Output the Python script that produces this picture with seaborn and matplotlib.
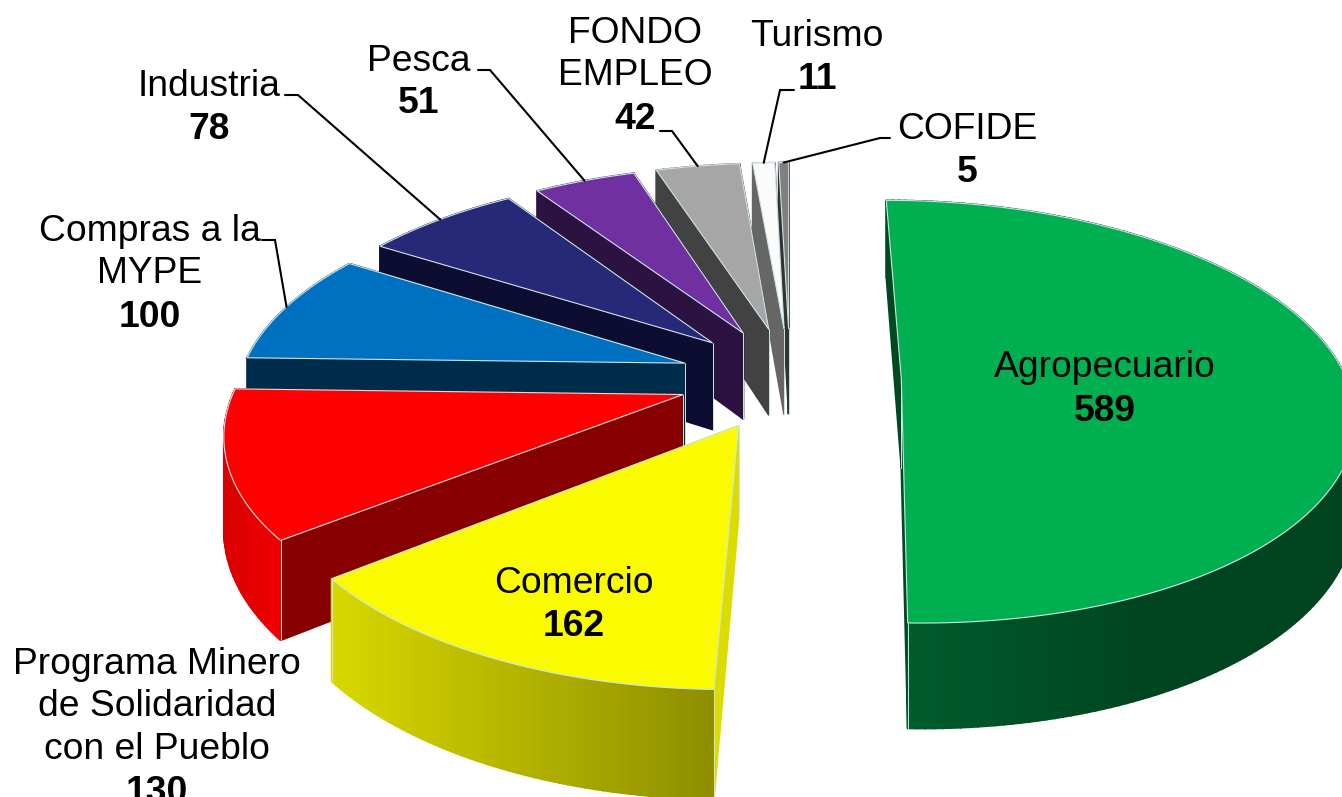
import numpy as np
import matplotlib
matplotlib.use("Agg")
import matplotlib.pyplot as plt
import matplotlib.colors as mc
import seaborn as sns

# ---- data ----
sectors = ["Agropecuario", "Comercio", "Programa Minero\nde Solidaridad\ncon el Pueblo",
           "Compras a la\nMYPE", "Industria", "Pesca", "FONDO\nEMPLEO", "Turismo", "COFIDE"]
values = [589, 162, 130, 100, 78, 51, 42, 11, 5]

# ---- styles ----
top_colors = ["#00B050", "#FAFA00", "#FF0000", "#0070C0", "#262878",
              "#7030A0", "#A6A6A6", "#FBFBFB", "#808080"]
wall_colors = ["#004A20", "#DCDC00", "#870000", "#002C4C", "#0C0D30",
               "#2C1240", "#424242", "#666666", "#333333"]
rim_left = ["#005C2B", "#D8D800", "#D80000", "#004F88", "#1A1B55",
            "#4E2270", "#747474", "#B0B0B0", "#5A5A5A"]
rim_right = ["#004420", "#8E8E00", "#F00000", "#004F88", "#1A1B55",
             "#4E2270", "#747474", "#B0B0B0", "#5A5A5A"]
EDGE = "#CDE6EA"

# label anchors: centre x and text baselines for name lines and the bold value
label_x = [1105, 574, 157, 150, 209, 419, 635, 817, 967]
name_base = [[377], [593], [674, 716, 759], [241, 283], [96], [71], [43, 85], [46], [139]]
value_base = [421, 636, 802, 327, 139, 113, 129, 89, 182]
# leader elbows (start of line at the label, elbow) for the outer labels
leaders = {3: ((262, 240), (275, 240)), 4: ((285, 95), (298, 95)),
           5: ((478, 70), (490, 70)), 6: ((660, 131), (672, 131)),
           7: ((794, 90), (780, 90)), 8: ((890, 138), (880, 138))}

# projection settings of the tilted pie
X0, Y0 = 790, 378
RX, RY = 445, 206
PERSP = 0.156
DEPTH = 89
EXPLODE = 0.25

sns.set_theme(style="white")
plt.rcParams["font.family"] = ["Liberation Sans", "DejaVu Sans"]
palette = sns.color_palette(top_colors)

fig = plt.figure(figsize=(13.42, 7.97), dpi=100, facecolor="white")
ax = fig.add_axes([0, 0, 1, 1])
ax.set_xlim(0, 1342)
ax.set_ylim(797, 0)
ax.axis("off")


def project(px, pz, drop=0.0):
    w = 1.0 / (1.0 - PERSP * pz)
    return X0 + RX * px * w, Y0 + RY * pz * w + drop * DEPTH * w


def plane(theta, cx, cz, r=1.0):
    return cx + r * np.sin(theta), cz - r * np.cos(theta)


edges = np.concatenate([[0], np.cumsum(values)]) / np.sum(values) * 2 * np.pi
mids = (edges[:-1] + edges[1:]) / 2
order = np.argsort(-np.cos(mids))

for i in order:
    a, b, m = edges[i], edges[i + 1], mids[i]
    cx, cz = EXPLODE * np.sin(m), -EXPLODE * np.cos(m)
    th = np.linspace(a, b, max(int((b - a) * 60), 6))
    px, pz = plane(th, cx, cz)

    faces = []
    # radial walls
    for end in (a, b):
        ex, ez = plane(end, cx, cz)
        ln = np.linspace(0, 1, 30)
        lx, lz = cx + (ex - cx) * ln, cz + (ez - cz) * ln
        tx, ty = project(lx, lz)
        bx, by = project(lx, lz, 1)
        faces.append(((lz.mean()), np.c_[np.r_[tx, bx[::-1]], np.r_[ty, by[::-1]]],
                      wall_colors[i]))
    # outer rim as narrow shaded quads
    sx, sy = project(px, pz)
    dx, dy = project(px, pz, 1)
    vis = pz >= -0.3
    xmin = sx[vis].min() if vis.any() else 0
    xmax = min(sx[vis].max(), 1150) if vis.any() else 1
    cl, cr = np.array(mc.to_rgb(rim_left[i])), np.array(mc.to_rgb(rim_right[i]))
    for k in range(len(th) - 1):
        t = np.clip(((sx[k] + sx[k + 1]) / 2 - xmin) / max(xmax - xmin, 1), 0, 1)
        col = cl + (cr - cl) * t
        q = np.array([[sx[k], sy[k]], [sx[k + 1], sy[k + 1]],
                      [dx[k + 1], dy[k + 1]], [dx[k], dy[k]]])
        faces.append(((pz[k] + pz[k + 1]) / 2, q, tuple(col)))

    faces.sort(key=lambda f: f[0])
    for _, poly, col in faces:
        ax.fill(poly[:, 0], poly[:, 1], color=col, lw=1.2, zorder=2)
    # light vertical edges on the wall corners
    for end in (a, b):
        ex, ez = plane(end, cx, cz)
        x1, y1 = project(ex, ez)
        x2, y2 = project(ex, ez, 1)
        if ez > 0:
            ax.plot([x1, x2], [y1, y2], color=EDGE, lw=0.7, zorder=2)
    tx0, ty0 = project(cx, cz)
    x3, y3 = project(cx, cz, 1)
    ax.plot([tx0, x3], [ty0, y3], color=EDGE, lw=0.7, zorder=2)

    # top face
    ln = np.linspace(0, 1, 30)
    ex0, ez0 = plane(a, cx, cz)
    ex1, ez1 = plane(b, cx, cz)
    ox = np.r_[cx + (ex0 - cx) * ln, px, ex1 + (cx - ex1) * ln]
    oz = np.r_[cz + (ez0 - cz) * ln, pz, ez1 + (cz - ez1) * ln]
    tx, ty = project(ox, oz)
    ax.fill(tx, ty, facecolor=palette[i], edgecolor=EDGE, lw=0.8, zorder=2)

# leader lines from the label to the rim of the slice
for i, (start, elbow) in leaders.items():
    m = mids[i]
    cx, cz = EXPLODE * np.sin(m), -EXPLODE * np.cos(m)
    x, y = project(*plane(m, cx, cz))
    ax.plot([start[0], elbow[0], x], [start[1], elbow[1], y], color="black", lw=1.5,
            solid_joinstyle="miter", zorder=3)

# labels
FS = 26.8
for i, name in enumerate(sectors):
    for line, base in zip(name.split("\n"), name_base[i]):
        ax.text(label_x[i], base, line, ha="center", va="baseline", fontsize=FS,
                color="black", zorder=4)
    ax.text(label_x[i], value_base[i], str(values[i]), ha="center", va="baseline",
            fontsize=FS, fontweight="bold", color="black", zorder=4)

sns.despine(ax=ax, left=True, bottom=True)
fig.savefig("out.png", dpi=100, facecolor="white")
